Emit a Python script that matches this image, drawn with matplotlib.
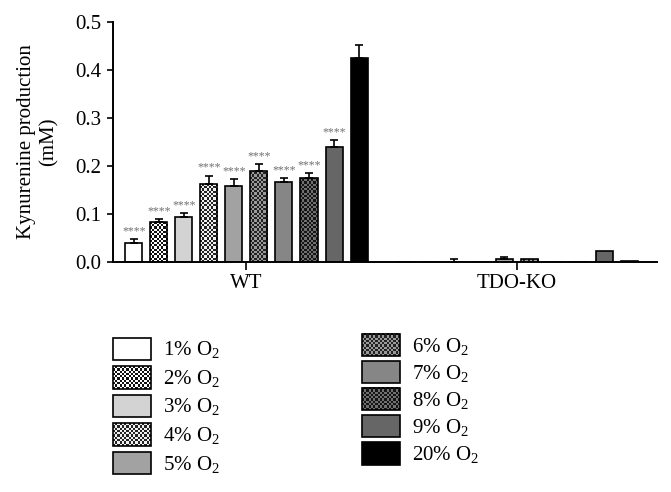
import matplotlib
matplotlib.use("Agg")
import matplotlib.pyplot as plt
import numpy as np
from matplotlib.patches import Patch, Rectangle
from matplotlib.legend_handler import HandlerBase
from matplotlib.image import BboxImage
from matplotlib.transforms import Bbox, TransformedBbox
from matplotlib.colors import to_rgb

plt.rcParams['font.family'] = ['Liberation Serif', 'DejaVu Serif']
plt.rcParams['mathtext.fontset'] = 'custom'
plt.rcParams['mathtext.rm'] = 'Liberation Serif'

# data
groups = ["WT", "TDO-KO"]
conditions = ["1%", "2%", "3%", "4%", "5%", "6%", "7%", "8%", "9%", "20%"]
wt_mean = [0.040, 0.083, 0.094, 0.162, 0.158, 0.190, 0.167, 0.176, 0.240, 0.426]
wt_err = [0.007, 0.006, 0.008, 0.018, 0.014, 0.014, 0.007, 0.009, 0.014, 0.026]
ko_mean = [0.0, 0.0, 0.001, 0.0, 0.006, 0.006, 0.0, 0.0, 0.022, 0.002]
ko_err = [0.0, 0.0, 0.006, 0.0, 0.004, 0.0, 0.0, 0.0, 0.0, 0.0]
wt_stars = ["****"] * 9 + [""]

# styles: plain fill colour, or a checkerboard (light, dark)
faces = ['white', None, '#d3d3d3', None, '#a2a2a2',
         None, '#868686', None, '#666666', 'black']
checkers = [None, ('white', '#111111'), None, ('#f0f0f0', '#222222'), None,
            ('#9a9a9a', '#222222'), None, ('#707070', '#151515'), None, None]
CELL_PX = 2.2


def checker_array(ncols, nrows, pair):
    c1, c2 = np.array(to_rgb(pair[0])), np.array(to_rgb(pair[1]))
    ii, jj = np.indices((nrows, ncols))
    mask = ((ii + jj) % 2 == 0)[..., None]
    return np.where(mask, c1, c2)


class CheckerHandler(HandlerBase):
    def __init__(self, pair):
        super().__init__()
        self.pair = pair

    def create_artists(self, legend, orig_handle, xdescent, ydescent, width, height,
                       fontsize, trans):
        bb = TransformedBbox(Bbox.from_bounds(-xdescent, -ydescent, width, height), trans)
        img = BboxImage(bb, interpolation='nearest')
        img.set_data(checker_array(int(width / CELL_PX * 1.389), int(height / CELL_PX * 1.389), self.pair))
        rect = Rectangle((-xdescent, -ydescent), width, height, facecolor='none',
                         edgecolor='black', linewidth=1.2, transform=trans)
        return [img, rect]


fig = plt.figure(figsize=(6.71, 4.92), dpi=100)
ax = fig.add_axes([0.1684, 0.4675, 0.810, 0.4878])

step = 1.0
gap = 10.8
width = 0.68
ax.set_xlim(-0.84, 20.9)
ax.set_ylim(0, 0.5)
px_per_x = 0.810 * 671 / (20.9 + 0.84)
px_per_y = 0.4878 * 492 / 0.5

for g, (means, errs) in enumerate([(wt_mean, wt_err), (ko_mean, ko_err)]):
    for i in range(len(conditions)):
        x = g * gap + i * step
        if checkers[i] is None:
            ax.bar(x, means[i], width=width, color=faces[i], edgecolor='black',
                   linewidth=1.2, zorder=2)
        else:
            bars = ax.bar(x, means[i], width=width, color='none', edgecolor='black',
                          linewidth=1.2, zorder=3)
            if means[i] > 0:
                ncols = max(1, int(round(width * px_per_x / CELL_PX)))
                nrows = max(1, int(round(means[i] * px_per_y / CELL_PX)))
                im = ax.imshow(checker_array(ncols, nrows, checkers[i]), origin='lower',
                               extent=(x - width / 2, x + width / 2, 0, means[i]),
                               aspect='auto', interpolation='nearest', zorder=2)
                im.set_clip_path(bars[0])
        if errs[i] > 0:
            ax.errorbar(x, means[i], yerr=[[0], [errs[i]]], color='black',
                        capsize=3, elinewidth=1.2, capthick=1.2, zorder=4)
        if g == 0 and wt_stars[i]:
            ax.text(x, means[i] + errs[i] + 0.004, wt_stars[i], ha='center',
                    va='bottom', fontsize=8.5, color='#707070')

ax.set_xlim(-0.84, 20.9)
ax.set_ylim(0, 0.5)
ax.set_yticks([0, 0.1, 0.2, 0.3, 0.4, 0.5])
ax.set_yticklabels(["0.0", "0.1", "0.2", "0.3", "0.4", "0.5"], fontsize=15)
ax.set_xticks([4.5, gap + 4.5])
ax.set_xticklabels(groups, fontsize=15)
ax.tick_params(axis='y', length=4.5, width=1.2, pad=4)
ax.tick_params(axis='x', length=5.5, width=1.2, pad=3)
for s in ['top', 'right']:
    ax.spines[s].set_visible(False)
for s in ['left', 'bottom']:
    ax.spines[s].set_linewidth(1.4)
ax.set_ylabel("Kynurenine production\n(mM)", fontsize=15, linespacing=1.2, labelpad=12)

handles = []
handler_map = {}
for i in range(len(conditions)):
    h = Patch(facecolor=faces[i] if faces[i] else 'white', edgecolor='black', linewidth=1.2)
    handles.append(h)
    if checkers[i] is not None:
        handler_map[h] = CheckerHandler(checkers[i])
labels = [c + r" O$_{\rm 2}$" for c in conditions]
leg1 = fig.legend(handles[:5], labels[:5], handler_map=handler_map, loc='upper left',
                  bbox_to_anchor=(0.169, 0.314), frameon=False, fontsize=15,
                  handlelength=1.8, handleheight=1.3, labelspacing=0.22,
                  handletextpad=0.6, borderaxespad=0, borderpad=0)
leg2 = fig.legend(handles[5:], labels[5:], handler_map=handler_map, loc='upper left',
                  bbox_to_anchor=(0.540, 0.322), frameon=False, fontsize=15,
                  handlelength=1.8, handleheight=1.3, labelspacing=0.15,
                  handletextpad=0.6, borderaxespad=0, borderpad=0)

fig.savefig("out.png", dpi=100)
